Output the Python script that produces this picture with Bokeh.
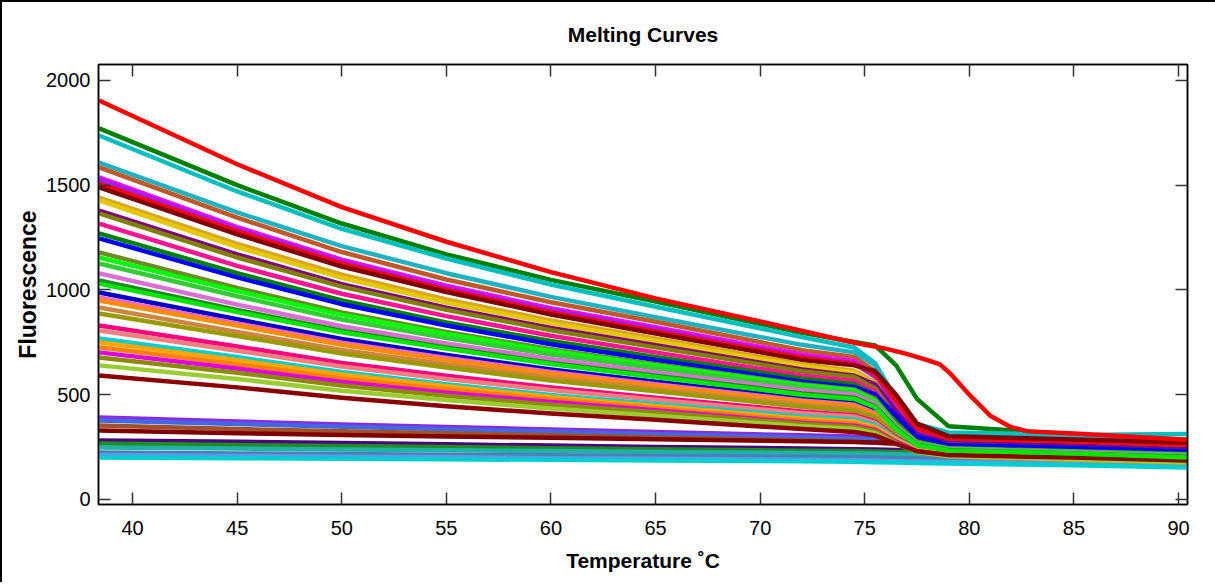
from bokeh.plotting import figure
from bokeh.models import LinearAxis, Range1d, FixedTicker, ColumnDataSource, CustomLabelingPolicy
from bokeh.embed import file_html
from bokeh.resources import INLINE

# Temperature grid (deg C) at which the curves were read
temps = [38.4, 45, 50, 55, 60, 65, 72, 74.5, 75.5, 76.5, 77.5, 79, 85, 90.4]

# High-fluorescence samples (start > 1000)
high_group = [
    [1771, 1500, 1317, 1170, 1048, 945, 795, 752, 735, 640, 480, 350, 310, 285],
    [1737, 1470, 1292, 1150, 1026, 920, 775, 725, 650, 480, 360, 320, 308, 312],
    [1608, 1370, 1209, 1080, 967, 870, 738, 702, 640, 460, 340, 300, 292, 282],
    [1585, 1345, 1181, 1050, 941, 848, 712, 680, 612, 440, 322, 290, 272, 258],
    [1537, 1300, 1145, 1020, 913, 822, 692, 660, 592, 420, 310, 280, 262, 246],
    [1527, 1290, 1135, 1010, 903, 812, 682, 650, 585, 430, 320, 285, 266, 240],
    [1508, 1280, 1125, 1000, 893, 802, 676, 645, 600, 470, 340, 292, 272, 256],
    [1489, 1265, 1112, 990, 883, 792, 666, 640, 612, 500, 362, 302, 286, 272],
    [1441, 1220, 1073, 955, 854, 768, 646, 615, 560, 400, 300, 270, 256, 240],
    [1427, 1205, 1058, 940, 841, 756, 636, 606, 550, 395, 296, 266, 250, 236],
    [1379, 1170, 1028, 915, 818, 736, 620, 590, 550, 420, 310, 270, 256, 240],
    [1365, 1155, 1016, 905, 808, 726, 612, 585, 530, 390, 290, 262, 246, 230],
    [1317, 1115, 982, 875, 781, 702, 592, 566, 515, 380, 286, 256, 240, 226],
    [1270, 1080, 950, 845, 756, 680, 576, 550, 500, 375, 280, 250, 236, 220],
    [1246, 1060, 932, 830, 741, 666, 562, 536, 500, 400, 300, 260, 246, 230],
    [1179, 1010, 893, 800, 717, 646, 550, 525, 480, 360, 275, 245, 230, 216],
    [1155, 995, 881, 790, 709, 640, 545, 520, 470, 350, 270, 242, 226, 212],
    [1126, 970, 859, 770, 692, 626, 536, 510, 460, 345, 265, 240, 224, 210],
    [1079, 930, 827, 745, 670, 606, 520, 500, 455, 345, 265, 238, 224, 206],
    [1045, 905, 805, 725, 652, 590, 506, 486, 445, 340, 262, 236, 220, 204],
    [1030, 895, 798, 720, 647, 585, 500, 480, 440, 335, 260, 234, 220, 200],
]
high_colors = ["#008000", "#00bfbf", "#20b2c0", "#c0582a", "#ff00ff", "#a020f0",
               "#ff0000", "#800000", "#daa520", "#e6c800", "#800080", "#808000",
               "#ff1493", "#008000", "#0000ff", "#6b8e23", "#00ff00", "#32cd32",
               "#da70d6", "#228b22", "#00e600"]

# Mid-fluorescence samples
mid_group = [
    [988, 860, 766, 690, 621, 562, 482, 462, 430, 340, 266, 236, 220, 202],
    [964, 840, 748, 675, 608, 550, 472, 452, 412, 320, 250, 226, 212, 196],
    [950, 830, 738, 665, 599, 542, 466, 446, 406, 316, 246, 224, 210, 194],
    [916, 800, 714, 645, 581, 526, 452, 432, 396, 310, 244, 222, 206, 190],
    [888, 780, 697, 630, 568, 516, 442, 422, 390, 305, 240, 220, 205, 190],
    [830, 730, 652, 590, 534, 486, 420, 402, 372, 296, 240, 220, 206, 190],
    [806, 710, 635, 575, 522, 476, 412, 396, 366, 290, 236, 216, 200, 186],
    [768, 680, 608, 550, 499, 456, 396, 382, 356, 290, 240, 220, 206, 192],
    [750, 665, 596, 540, 489, 446, 386, 372, 346, 286, 236, 216, 200, 186],
    [726, 645, 578, 525, 477, 436, 376, 362, 336, 276, 230, 210, 196, 182],
    [702, 625, 561, 510, 465, 426, 366, 352, 332, 276, 230, 210, 196, 180],
    [678, 605, 544, 495, 452, 416, 362, 346, 326, 270, 226, 206, 190, 176],
    [640, 575, 519, 475, 434, 400, 350, 336, 316, 266, 226, 206, 190, 176],
    [592, 535, 485, 445, 410, 380, 336, 322, 306, 266, 230, 212, 200, 186],
]
mid_colors = ["#0000cd", "#ff69b4", "#ff8c00", "#cd853f", "#9a9a00", "#ff007f",
              "#f08080", "#00ced1", "#ffa500", "#ff7f00", "#e000e0", "#8b8b00",
              "#9acd32", "#8b0000"]

# Low, nearly flat samples
low_group = [
    [391, 372, 358, 346, 334, 322, 306, 300, 296, 288, 278, 268, 256, 246],
    [377, 360, 347, 335, 323, 311, 296, 290, 285, 276, 266, 256, 246, 236],
    [353, 336, 326, 316, 306, 296, 282, 276, 271, 263, 256, 249, 240, 230],
    [329, 316, 308, 301, 294, 287, 278, 274, 272, 270, 268, 266, 264, 268],
    [282, 275, 269, 263, 257, 251, 243, 240, 238, 236, 234, 232, 228, 222],
    [267, 260, 255, 250, 245, 240, 233, 231, 229, 227, 225, 223, 218, 212],
    [248, 243, 239, 235, 231, 227, 222, 220, 218, 216, 214, 212, 208, 204],
    [224, 220, 217, 214, 211, 208, 204, 202, 200, 198, 196, 194, 186, 176],
    [212, 208, 204, 201, 197, 194, 189, 187, 185, 183, 181, 179, 172, 162],
    [200, 197, 194, 192, 189, 186, 182, 180, 178, 176, 174, 172, 163, 152],
]
low_colors = ["#8a2be2", "#4169e1", "#a0522d", "#800000", "#4b0082", "#228b22",
              "#20b2aa", "#4682b4", "#6495ed", "#00ced1"]

# Sample with the high melting temperature (red, ~80 C)
red_temps = [38.4, 45, 50, 55, 60, 65, 70, 74.5, 76, 77, 78, 78.6, 79.1, 80, 81, 82, 82.8, 85, 90.4]
red_values = [1904, 1600, 1395, 1230, 1085, 960, 850, 748, 720, 695, 665, 645, 600, 500, 400, 345, 325, 315, 285]

xticks = [40, 45, 50, 55, 60, 65, 70, 75, 80, 85, 90]
yticks = [0, 500, 1000, 1500, 2000]

FONT = "Liberation Sans"

p = figure(frame_width=1089, frame_height=440, output_backend="svg", toolbar_location=None,
           x_range=Range1d(38.37, 90.43), y_range=Range1d(-24, 2076),
           min_border_left=96, min_border_right=20, min_border_top=62, min_border_bottom=78,
           background_fill_color="white", border_fill_color="white")
p.styles = {"border-top": "2px solid black", "border-left": "2px solid black"}

rows = low_group + mid_group + high_group
cols = low_colors + mid_colors + high_colors
src = ColumnDataSource(dict(xs=[temps] * len(rows), ys=rows, color=cols))
p.multi_line("xs", "ys", source=src, line_color="color", line_width=4.5,
             line_join="round")
p.line(red_temps, red_values, line_color="#ff0000", line_width=4.5, line_join="round")

p.xgrid.visible = False
p.ygrid.visible = False
p.outline_line_color = "black"
p.outline_line_width = 1.5

xax = p.below[0]
yax = p.left[0]
top = LinearAxis()
right = LinearAxis()
p.add_layout(top, "above")
p.add_layout(right, "right")

for ax, t in ((xax, xticks), (top, xticks), (yax, yticks), (right, yticks)):
    ax.ticker = FixedTicker(ticks=t)
    ax.major_tick_in = 12
    ax.major_tick_out = 0
    ax.minor_tick_line_color = None
    ax.major_tick_line_color = "#333333"
    ax.major_tick_line_width = 1.5
    ax.axis_line_color = "black"
    ax.axis_line_width = 1.5
    ax.major_label_text_font = FONT
    ax.major_label_text_font_size = "20px"
    ax.major_label_text_color = "black"

hide_all = CustomLabelingPolicy(code="""
    for (const i of indices)
        indices.unset(i)
""")
for ax in (top, right):
    ax.major_label_policy = hide_all
    ax.major_label_standoff = 0

xax.major_label_standoff = 16
yax.major_label_standoff = 8
xax.axis_label = "Temperature \u02daC"
yax.axis_label = "Fluorescence"
for ax in (xax, yax):
    ax.axis_label_text_font = FONT
    ax.axis_label_text_font_style = "bold"
    ax.axis_label_text_color = "black"
xax.axis_label_text_font_size = "21px"
yax.axis_label_text_font_size = "23px"
xax.axis_label_standoff = 11
yax.axis_label_standoff = 2

p.title.text = "Melting Curves"
p.title.align = "center"
p.title.text_font = FONT
p.title.text_font_size = "21px"
p.title.text_font_style = "bold"
p.title.text_color = "black"
p.title.standoff = 3

open("out.html", "w").write(file_html(p, INLINE))
